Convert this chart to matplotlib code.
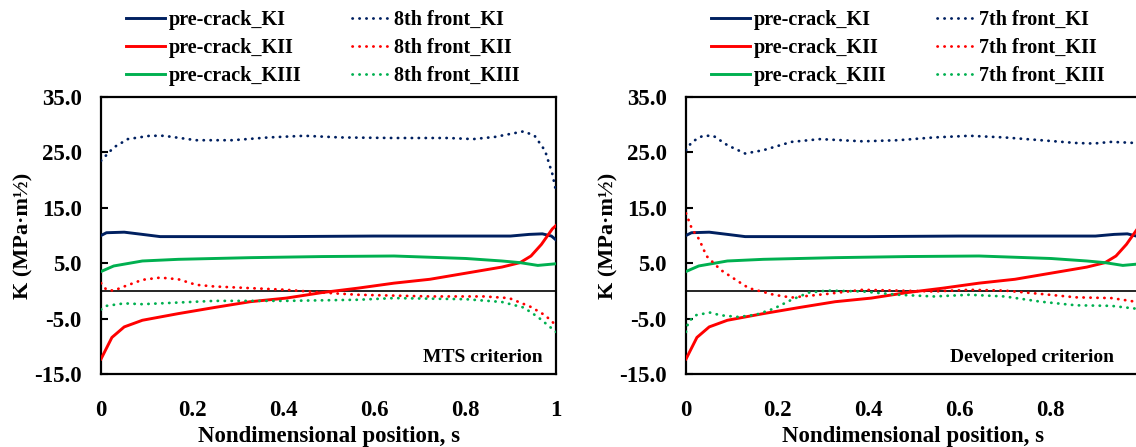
import numpy as np
import matplotlib
matplotlib.use("Agg")
import matplotlib.pyplot as plt

plt.rcParams['font.family'] = ['Liberation Serif', 'DejaVu Serif']
plt.rcParams['font.weight'] = 'bold'
plt.rcParams['axes.unicode_minus'] = False

# ---- data (s, K) ----
# pre-crack (same in both panels)
s_pre_KI = [0, 0.012, 0.051, 0.091, 0.13, 0.25, 0.4, 0.6, 0.8, 0.9, 0.941, 0.97, 0.99, 1.0]
pre_KI = [10.0, 10.5, 10.6, 10.2, 9.8, 9.8, 9.8, 9.9, 9.9, 9.9, 10.2, 10.3, 9.9, 9.2]
s_pre_KII = [0, 0.024, 0.051, 0.091, 0.170, 0.249, 0.328, 0.407, 0.486, 0.565, 0.644,
             0.723, 0.802, 0.881, 0.921, 0.945, 0.968, 0.992, 1.0]
pre_KII = [-12.3, -8.4, -6.5, -5.3, -4.1, -3.0, -1.95, -1.3, -0.3, 0.5, 1.4,
           2.1, 3.2, 4.3, 5.1, 6.3, 8.4, 11.2, 11.8]
s_pre_KIII = [0, 0.028, 0.091, 0.170, 0.328, 0.486, 0.644, 0.802, 0.881, 0.921, 0.96, 1.0]
pre_KIII = [3.5, 4.5, 5.4, 5.7, 6.0, 6.2, 6.3, 5.85, 5.4, 5.1, 4.6, 4.9]

# 8th front (MTS criterion)
s_8_KI = [0, 0.028, 0.059, 0.107, 0.138, 0.209, 0.289, 0.368, 0.447, 0.526, 0.644,
          0.763, 0.818, 0.866, 0.929, 0.953, 0.976, 0.992, 1.0]
f8_KI = [23.5, 25.9, 27.4, 28.0, 28.0, 27.2, 27.2, 27.7, 28.0, 27.7, 27.6,
         27.6, 27.4, 27.8, 28.8, 28.0, 25.3, 21.1, 18.0]
s_8_KII = [0, 0.012, 0.028, 0.051, 0.091, 0.130, 0.170, 0.209, 0.249, 0.328, 0.407,
           0.486, 0.565, 0.723, 0.842, 0.897, 0.945, 0.976, 1.0]
f8_KII = [1.4, 0.2, 0.05, 0.8, 2.0, 2.4, 2.1, 1.1, 0.8, 0.5, 0.2,
          -0.3, -0.7, -1.0, -1.0, -1.3, -2.9, -4.4, -6.2]
s_8_KIII = [0, 0.012, 0.051, 0.091, 0.170, 0.249, 0.407, 0.565, 0.644, 0.802, 0.881,
            0.929, 0.960, 1.0]
f8_KIII = [-3.35, -2.7, -2.25, -2.4, -2.1, -1.8, -1.8, -1.6, -1.3, -1.5, -2.0,
           -3.0, -4.7, -7.4]

# 7th front (Developed criterion)
s_7_KI = [0, 0.013, 0.037, 0.06, 0.091, 0.13, 0.17, 0.232, 0.295, 0.388, 0.466,
          0.545, 0.623, 0.70, 0.78, 0.857, 0.896, 0.935, 0.988, 1.0]
f7_KI = [25.4, 26.9, 28.0, 28.0, 26.3, 24.8, 25.4, 26.9, 27.4, 27.0, 27.2,
         27.7, 28.0, 27.7, 27.2, 26.7, 26.6, 26.9, 26.7, 26.7]
s_7_KII = [0, 0.013, 0.029, 0.045, 0.076, 0.115, 0.138, 0.193, 0.232, 0.31, 0.388,
           0.466, 0.545, 0.623, 0.70, 0.78, 0.857, 0.935, 0.988, 1.0]
f7_KII = [14.0, 11.2, 9.3, 6.3, 3.8, 1.7, 0.5, -0.7, -1.2, -0.55, 0.2,
          0.06, -0.1, 0.2, 0.06, -0.55, -1.16, -1.3, -1.95, -2.1]
s_7_KIII = [0, 0.005, 0.021, 0.052, 0.076, 0.115, 0.154, 0.193, 0.232, 0.27, 0.31,
            0.388, 0.466, 0.545, 0.623, 0.70, 0.78, 0.857, 0.935, 0.988, 1.0]
f7_KIII = [-7.4, -5.6, -4.4, -3.9, -4.4, -4.7, -4.3, -3.2, -1.6, -0.3, 0.06,
           -0.1, -0.7, -1.0, -0.7, -1.0, -1.95, -2.6, -2.7, -3.2, -3.3]

x_ticks = [0, 0.2, 0.4, 0.6, 0.8, 1.0]
x_tick_labels = ['0', '0.2', '0.4', '0.6', '0.8', '1']
y_ticks = [-15, -5, 5, 15, 25, 35]

NAVY = '#002060'
RED = '#FF0000'
GREEN = '#00B050'
DOT = (0, (0.1, 2.4))

W, H = 1136, 447
fig = plt.figure(figsize=(W / 100, H / 100), dpi=100)

panels = [
    (101, '8th front', (s_8_KI, f8_KI), (s_8_KII, f8_KII), (s_8_KIII, f8_KIII),
     'MTS criterion', 0.97),
    (686, '7th front', (s_7_KI, f7_KI), (s_7_KII, f7_KII), (s_7_KIII, f7_KIII),
     'Developed criterion', 0.94),
]

for x0, front, ki, kii, kiii, note, note_x in panels:
    ax = fig.add_axes([x0 / W, (H - 374) / H, 455 / W, 277 / H])
    ax.axhline(0, color='black', lw=1.2, zorder=1)
    ax.plot(s_pre_KI, pre_KI, color=NAVY, lw=2.1, label='pre-crack_KI', zorder=3)
    ax.plot(s_pre_KII, pre_KII, color=RED, lw=2.1, label='pre-crack_KII', zorder=3)
    ax.plot(s_pre_KIII, pre_KIII, color=GREEN, lw=2.1, label='pre-crack_KIII', zorder=3)
    ax.plot(*ki, color=NAVY, lw=2.0, ls=DOT, dash_capstyle='round',
            label=front + '_KI', zorder=3)
    ax.plot(*kii, color=RED, lw=2.0, ls=DOT, dash_capstyle='round',
            label=front + '_KII', zorder=3)
    ax.plot(*kiii, color=GREEN, lw=2.0, ls=DOT, dash_capstyle='round',
            label=front + '_KIII', zorder=3)

    ax.set_xlim(0, 1)
    ax.set_ylim(-15, 35)
    ax.set_xticks(x_ticks)
    ax.set_xticklabels(x_tick_labels)
    ax.set_yticks(y_ticks)
    ax.set_yticklabels([f'{v:.1f}' for v in y_ticks])
    ax.tick_params(axis='y', direction='in', length=5, width=1.5, pad=14, labelsize=16.5)
    ax.tick_params(axis='x', length=0, pad=19, labelsize=16.5)
    for sp in ax.spines.values():
        sp.set_linewidth(1.6)
        sp.set_clip_on(False)

    ax.set_xlabel('Nondimensional position, s', fontsize=16.5, fontweight='bold', labelpad=3)
    ax.set_ylabel('K (MPa·m½)', fontsize=16, fontweight='bold')
    ax.yaxis.set_label_coords(-68 / 455, 0.5)
    ax.text(note_x, 0.03, note, transform=ax.transAxes, ha='right', va='bottom',
            fontsize=14, fontweight='bold')

    ax.legend(loc='lower left', bbox_to_anchor=(0.025, 0.99), ncol=2, frameon=False,
              fontsize=14.5, handlelength=1.9, handletextpad=0.2, columnspacing=2.5,
              labelspacing=0.4, borderaxespad=0.3)

fig.savefig('out.png', dpi=100)
